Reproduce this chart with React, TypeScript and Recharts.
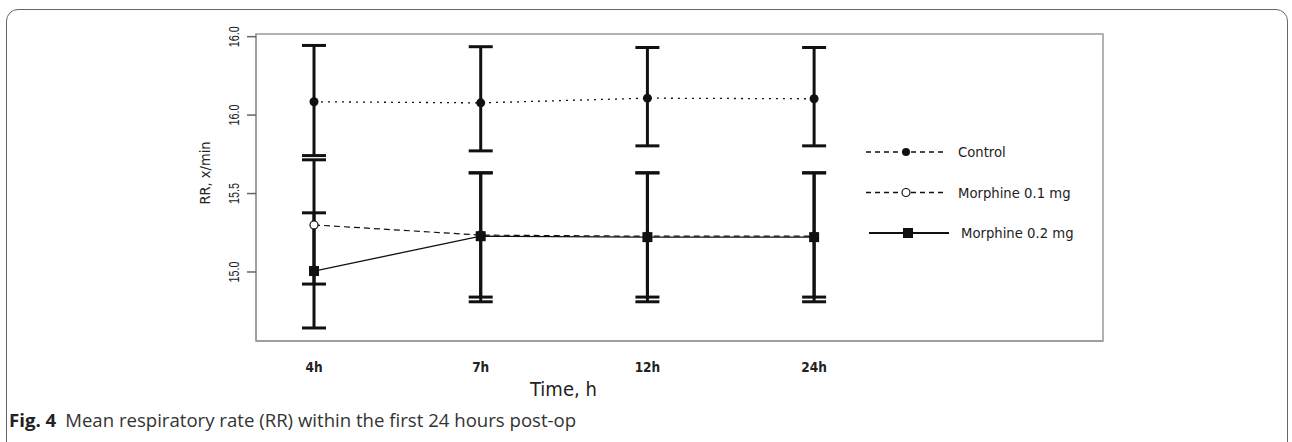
import React from 'react'
import { ComposedChart, Line, XAxis, YAxis, ErrorBar, ReferenceArea } from 'recharts'

// Time points (x axis categories)
const TIMES = ['4h', '7h', '12h', '24h']

// Means
const CONTROL = [16.085, 16.078, 16.108, 16.104]
const MORPH_01 = [15.3, 15.235, 15.228, 15.228]
const MORPH_02 = [15.006, 15.228, 15.222, 15.222]

// Error bar limits (upper / lower)
const CONTROL_HI = [16.444, 16.436, 16.431, 16.431]
const CONTROL_LO = [15.742, 15.772, 15.804, 15.804]
const MORPH_01_HI = [15.715, 15.632, 15.632, 15.632]
const MORPH_01_LO = [14.923, 14.81, 14.81, 14.81]
const MORPH_02_HI = [15.377, 15.632, 15.632, 15.632]
const MORPH_02_LO = [14.643, 14.84, 14.84, 14.84]

// Y ticks and the labels printed next to them (the top one reads 16.0 in the original)
const Y_TICKS = [15, 15.5, 16, 16.5]
const Y_LABELS = ['15.0', '15.5', '16.0', '16.0']

const LEGEND_ITEMS = ['Control', 'Morphine 0.1 mg', 'Morphine 0.2 mg']

const X_DOMAIN: [number, number] = [-0.348, 4.733]
const Y_DOMAIN: [number, number] = [14.56, 16.517]

const data = TIMES.map((t, i) => ({
  idx: i,
  control: CONTROL[i],
  controlErr: [CONTROL[i] - CONTROL_LO[i], CONTROL_HI[i] - CONTROL[i]],
  m01: MORPH_01[i],
  m01Err: [MORPH_01[i] - MORPH_01_LO[i], MORPH_01_HI[i] - MORPH_01[i]],
  m02: MORPH_02[i],
  m02Err: [MORPH_02[i] - MORPH_02_LO[i], MORPH_02_HI[i] - MORPH_02[i]],
}))

const DIN = '"DejaVu Sans Condensed", "Liberation Sans Narrow", Roboto, sans-serif'

const YTick = (props: any) => {
  const { x, y, payload } = props
  const i = Y_TICKS.indexOf(payload.value)
  return (
    <text
      transform={`translate(${x - 6},${y}) rotate(-90) scale(0.72,1)`}
      textAnchor="middle"
      fontSize={15}
      fontFamily="Liberation Sans, Arial, sans-serif"
      fill="#222"
    >
      {Y_LABELS[i]}
    </text>
  )
}

const XTick = (props: any) => {
  const { x, y, payload } = props
  return (
    <text x={x} y={y + 31} textAnchor="middle" fontSize={13.5} fontWeight={600} fontFamily={DIN} fill="#222">
      {TIMES[payload.value]}
    </text>
  )
}

const FilledDot = (props: any) => <circle key={`c-${props.index}`} cx={props.cx} cy={props.cy} r={4.5} fill="#111" />
const OpenDot = (props: any) => (
  <circle key={`o-${props.index}`} cx={props.cx} cy={props.cy} r={4} fill="#fff" stroke="#111" strokeWidth={1.2} />
)
const SquareDot = (props: any) => (
  <rect key={`s-${props.index}`} x={props.cx - 5} y={props.cy - 5} width={10} height={10} fill="#111" />
)

// Legend drawn as a small svg to the right of the plot
const LegendBox = () => {
  const rows = [
    { dash: '5 4', marker: 'filled' },
    { dash: '5 4', marker: 'open' },
    { dash: undefined, marker: 'square' },
  ]
  return (
    <svg width={240} height={110}>
      {rows.map((r, i) => {
        const cy = 10 + i * 40.5
        const off = i === 2 ? 3 : 0
        return (
          <g key={i}>
            <line
              x1={off}
              x2={80 + off}
              y1={cy}
              y2={cy}
              stroke="#111"
              strokeWidth={r.dash ? 1.3 : 2}
              strokeDasharray={r.dash}
            />
            {r.marker === 'filled' && <circle cx={40} cy={cy} r={4} fill="#111" />}
            {r.marker === 'open' && <circle cx={40} cy={cy} r={4} fill="#fff" stroke="#111" strokeWidth={1.2} />}
            {r.marker === 'square' && <rect x={37} y={cy - 5} width={10} height={10} fill="#111" />}
            <text x={92 + off} y={cy + 5} fontSize={14.7} fontFamily={DIN} fill="#222">
              {LEGEND_ITEMS[i]}
            </text>
          </g>
        )
      })}
    </svg>
  )
}

export default function App() {
  return (
    <div style={{ position: 'absolute', left: 0, top: 0, width: 1292, height: 442, background: '#fff', overflow: 'hidden' }}>
      <div
        style={{
          position: 'absolute',
          left: 6,
          top: 9,
          width: 1282,
          height: 460,
          border: '1px solid #666',
          borderRadius: 12,
          boxSizing: 'border-box',
        }}
      />
      <div style={{ position: 'absolute', left: 0, top: 0 }}>
        <ComposedChart width={1292} height={442} data={data} margin={{ top: 34, right: 189, bottom: 71, left: 196 }}>
          <ReferenceArea
            x1={X_DOMAIN[0]}
            x2={X_DOMAIN[1]}
            y1={Y_DOMAIN[0]}
            y2={Y_DOMAIN[1]}
            fill="none"
            stroke="#999"
            strokeWidth={1.5}
            ifOverflow="extendDomain"
          />
          <XAxis
            type="number"
            dataKey="idx"
            domain={X_DOMAIN}
            ticks={[0, 1, 2, 3]}
            allowDataOverflow
            tickLine={false}
            tickSize={0}
            tickMargin={0}
            axisLine={{ stroke: '#999', strokeWidth: 1.5 }}
            tick={<XTick />}
            height={30}
          />
          <YAxis
            type="number"
            domain={Y_DOMAIN}
            ticks={Y_TICKS}
            allowDataOverflow
            width={60}
            tickSize={9}
            tickMargin={2}
            axisLine={{ stroke: '#999', strokeWidth: 1.5 }}
            tickLine={{ stroke: '#666', strokeWidth: 1.5 }}
            tick={<YTick />}
          />
          <Line
            dataKey="control"
            stroke="#111"
            strokeWidth={1.3}
            strokeDasharray="2 5"
            dot={FilledDot}
            activeDot={false}
            isAnimationActive={false}
          >
            <ErrorBar dataKey="controlErr" width={12} stroke="#111" strokeWidth={3} direction="y" />
          </Line>
          <Line
            dataKey="m01"
            stroke="#111"
            strokeWidth={1.2}
            strokeDasharray="6 4"
            dot={OpenDot}
            activeDot={false}
            isAnimationActive={false}
          >
            <ErrorBar dataKey="m01Err" width={12} stroke="#111" strokeWidth={3} direction="y" />
          </Line>
          <Line
            dataKey="m02"
            stroke="#111"
            strokeWidth={1.3}
            dot={SquareDot}
            activeDot={false}
            isAnimationActive={false}
          >
            <ErrorBar dataKey="m02Err" width={12} stroke="#111" strokeWidth={3} direction="y" />
          </Line>
        </ComposedChart>
      </div>
      <div style={{ position: 'absolute', left: 866, top: 142 }}>
        <LegendBox />
      </div>
      {/* axis titles */}
      <div
        style={{
          position: 'absolute',
          left: 530,
          top: 377,
          fontFamily: DIN,
          fontSize: 20,
          color: '#222',
          whiteSpace: 'nowrap',
        }}
      >
        Time, h
      </div>
      <svg style={{ position: 'absolute', left: 0, top: 0 }} width={260} height={342}>
        <text
          transform="translate(210,173) rotate(-90)"
          textAnchor="middle"
          fontSize={14.5}
          fontFamily={DIN}
          fill="#222"
        >
          RR, x/min
        </text>
      </svg>
      <div
        style={{
          position: 'absolute',
          left: 9,
          top: 407,
          fontFamily: '"Open Sans", sans-serif',
          fontSize: 18.6,
          color: '#333',
          whiteSpace: 'nowrap',
        }}
      >
        <b style={{ color: '#222' }}>Fig. 4</b>
        <span style={{ marginLeft: 9 }}>Mean respiratory rate (RR) within the first 24 hours post-op</span>
      </div>
    </div>
  )
}
